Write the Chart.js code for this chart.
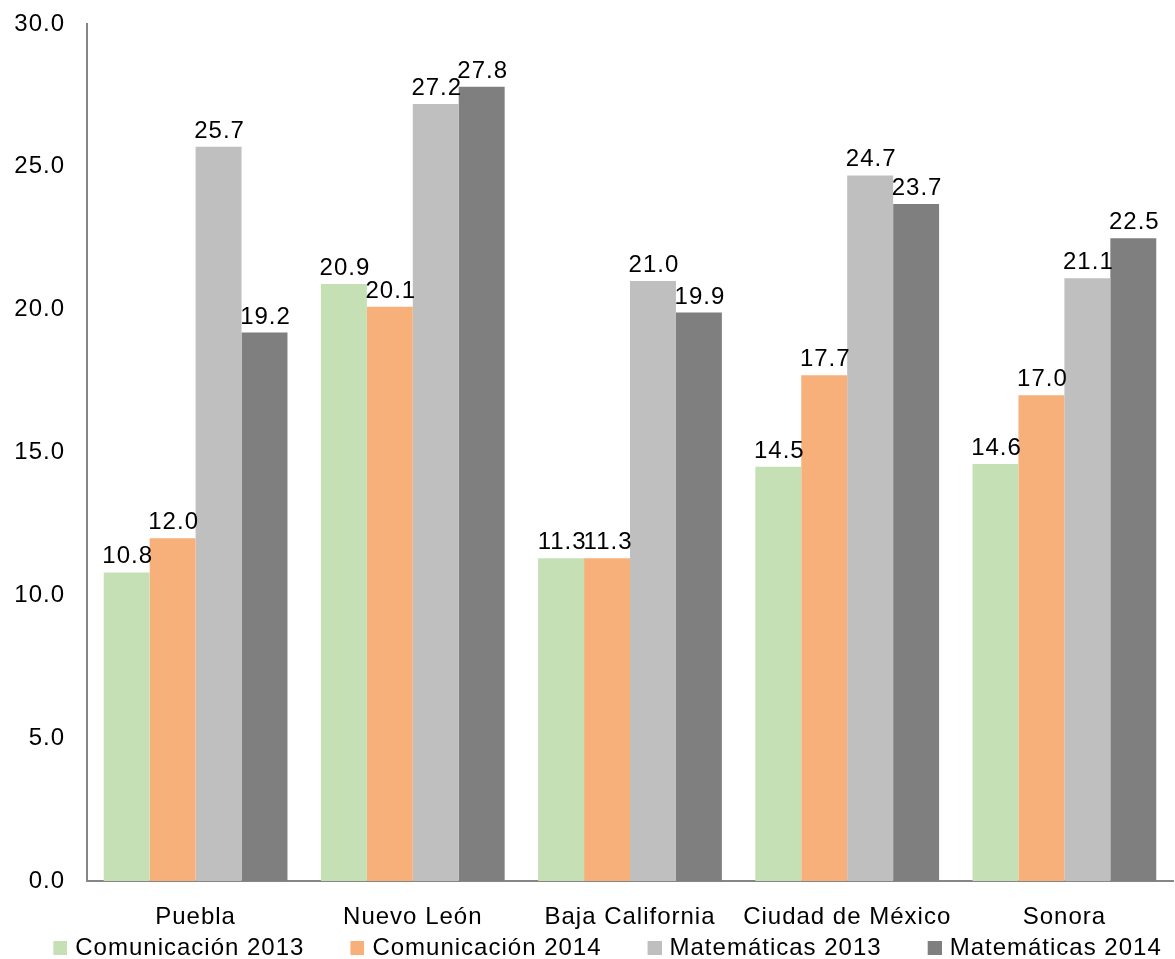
<!DOCTYPE html>
<html lang="es">
<head>
<meta charset="utf-8">
<title>Comunicación y Matemáticas por entidad</title>
<script src="https://cdn.jsdelivr.net/npm/chart.js@4.4.1/dist/chart.umd.min.js"></script>
<style>
  html, body { margin: 0; padding: 0; background: #ffffff; }
  #wrap { width: 1175px; height: 959px; }
</style>
</head>
<body>
<div id="wrap"><canvas id="chart" width="1175" height="959"></canvas></div>
<script>
// Entidades y resultados por área y año
const categories = ['Puebla', 'Nuevo León', 'Baja California', 'Ciudad de México', 'Sonora'];
const seriesNames = ['Comunicación 2013', 'Comunicación 2014', 'Matemáticas 2013', 'Matemáticas 2014'];
const comunicacion2013 = [10.8, 20.9, 11.3, 14.5, 14.6];
const comunicacion2014 = [12.0, 20.1, 11.3, 17.7, 17.0];
const matematicas2013 = [25.7, 27.2, 21.0, 24.7, 21.1];
const matematicas2014 = [19.2, 27.8, 19.9, 23.7, 22.5];
const yTicks = [0, 5, 10, 15, 20, 25, 30];

const seriesValues = [comunicacion2013, comunicacion2014, matematicas2013, matematicas2014];
const seriesColors = ['#C5E0B4', '#F8B07A', '#BFBFBF', '#7F7F7F'];

const FONT = { family: '"Liberation Sans", Arial, sans-serif', size: 24 };
const SPACING = '1px';

// Legend marker: blank lead-in followed by a small colour square,
// slightly wider than the legend box so the square sits close to its text
const BOX = 52, SQUARE = 14, OVERHANG = 4;
function legendMarker(color) {
  const c = document.createElement('canvas');
  c.width = BOX + 2 * OVERHANG;
  c.height = SQUARE;
  const g = c.getContext('2d');
  g.fillStyle = color;
  g.fillRect(c.width - SQUARE, 0, SQUARE, SQUARE);
  return c;
}
const markers = seriesColors.map(legendMarker);

// Wider letter spacing for every text measured and drawn on the canvas
const spacingPlugin = {
  id: 'spacing',
  beforeUpdate(chart) { chart.ctx.letterSpacing = SPACING; },
  beforeLayout(chart) { chart.ctx.letterSpacing = SPACING; },
  beforeDraw(chart) { chart.ctx.letterSpacing = SPACING; }
};

// Value labels above each bar
const valueLabels = {
  id: 'valueLabels',
  afterDatasetsDraw(chart) {
    const ctx = chart.ctx;
    ctx.save();
    ctx.letterSpacing = SPACING;
    ctx.font = `${FONT.size}px ${FONT.family}`;
    ctx.fillStyle = '#000000';
    ctx.textAlign = 'center';
    ctx.textBaseline = 'alphabetic';
    chart.data.datasets.forEach((ds, i) => {
      const meta = chart.getDatasetMeta(i);
      meta.data.forEach((bar, j) => {
        ctx.fillText(ds.data[j].toFixed(1), bar.x + 1, bar.y - 9);
      });
    });
    ctx.restore();
  }
};

new Chart(document.getElementById('chart'), {
  type: 'bar',
  data: {
    labels: categories,
    datasets: seriesNames.map((name, i) => ({
      label: name,
      data: seriesValues[i],
      backgroundColor: seriesColors[i],
      borderWidth: 0,
      barPercentage: 1.0,
      categoryPercentage: 0.846
    }))
  },
  options: {
    responsive: false,
    animation: false,
    devicePixelRatio: 1,
    layout: { padding: { left: 0, right: 2, top: 0, bottom: -11 } },
    plugins: {
      legend: {
        position: 'bottom',
        labels: {
          usePointStyle: true,
          boxWidth: BOX,
          boxHeight: SQUARE,
          pointStyleWidth: BOX,
          padding: 4,
          color: '#000000',
          font: FONT,
          generateLabels(chart) {
            const items = Chart.defaults.plugins.legend.labels.generateLabels(chart);
            items.forEach((it, i) => { it.pointStyle = markers[i]; it.lineWidth = 0; });
            return items;
          }
        }
      },
      tooltip: { enabled: false }
    },
    scales: {
      x: {
        afterFit(scale) { scale.height = 51; },
        grid: { display: false, drawTicks: false },
        border: { display: true, color: '#868686', width: 2 },
        ticks: { color: '#000000', font: FONT, padding: 22, maxRotation: 0, autoSkip: false }
      },
      y: {
        min: 0,
        max: 30,
        afterBuildTicks(scale) { scale.ticks = yTicks.map(v => ({ value: v })); },
        afterFit(scale) {
          scale.width = 87;
          scale.paddingTop = 24;
          scale.paddingBottom = 0;
        },
        grid: { display: false, drawTicks: false },
        border: { display: true, color: '#868686', width: 2 },
        ticks: {
          color: '#000000',
          font: FONT,
          padding: 22,
          callback: v => Number(v).toFixed(1)
        }
      }
    }
  },
  plugins: [spacingPlugin, valueLabels]
});
</script>
</body>
</html>
